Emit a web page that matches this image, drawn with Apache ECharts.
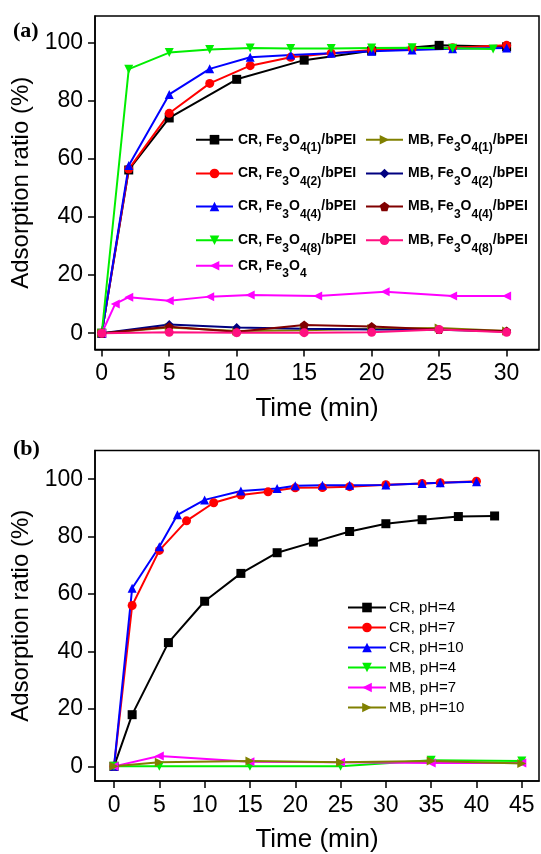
<!DOCTYPE html>
<html>
<head>
<meta charset="utf-8">
<script src="https://cdn.jsdelivr.net/npm/echarts@6/dist/echarts.min.js"></script>
<style>
html,body{margin:0;padding:0;background:#fff;}
#chart{width:541px;height:854px;}
</style>
</head>
<body>
<div id="chart"></div>
<script>
// ---------- Panel (a) data ----------
const xTicksA = [0, 5, 10, 15, 20, 25, 30];
const yTicksA = [0, 20, 40, 60, 80, 100];
const namesA = ['CR, Fe3O4(1)/bPEI','CR, Fe3O4(2)/bPEI','CR, Fe3O4(4)/bPEI','CR, Fe3O4(8)/bPEI','CR, Fe3O4',
                'MB, Fe3O4(1)/bPEI','MB, Fe3O4(2)/bPEI','MB, Fe3O4(4)/bPEI','MB, Fe3O4(8)/bPEI'];
const tA_CR1 = [0, 2, 5, 10, 15, 20, 25, 30];
const yA_CR1 = [0, 56.2, 74.1, 87.4, 94.0, 97.2, 99.1, 98.6];
const tA_CR2 = [0, 2, 5, 8, 11, 14, 17, 20, 23, 26, 30];
const yA_CR2 = [0, 56.5, 75.7, 86.0, 92.1, 95.0, 96.4, 97.5, 98.0, 98.3, 99.1];
const tA_CR4 = [0, 2, 5, 8, 11, 14, 17, 20, 23, 26, 30];
const yA_CR4 = [0, 57.7, 82.2, 91.0, 95.0, 95.8, 96.4, 97.1, 97.5, 97.9, 98.2];
const tA_CR8 = [0, 2, 5, 8, 11, 14, 17, 20, 23, 26, 29];
const yA_CR8 = [0, 90.9, 96.6, 97.7, 98.2, 98.0, 98.0, 98.2, 98.3, 98.1, 97.8];
const tA_CRFe = [0, 1, 2, 5, 8, 11, 16, 21, 26, 30];
const yA_CRFe = [0, 10.1, 12.4, 11.2, 12.6, 13.2, 12.8, 14.3, 12.8, 12.8];
const tA_MB = [0, 5, 10, 15, 20, 25, 30];
const yA_MB1 = [0, 2.0, 0.8, 1.0, 1.5, 1.8, 0.8];
const yA_MB2 = [0, 3.0, 2.0, 1.5, 1.3, 1.2, 0.6];
const yA_MB4 = [0, 2.2, 0.5, 2.8, 2.3, 1.3, 0.8];
const yA_MB8 = [0, 0.3, 0.2, 0.2, 0.3, 1.3, 0.3];

// ---------- Panel (b) data ----------
const xTicksB = [0, 5, 10, 15, 20, 25, 30, 35, 40, 45];
const yTicksB = [0, 20, 40, 60, 80, 100];
const namesB = ['CR, pH=4','CR, pH=7','CR, pH=10','MB, pH=4','MB, pH=7','MB, pH=10'];
const tB_CR4 = [0, 2, 6, 10, 14, 18, 22, 26, 30, 34, 38, 42];
const yB_CR4 = [0, 18.0, 43.1, 57.5, 67.2, 74.4, 78.1, 81.8, 84.5, 85.9, 87.0, 87.2];
const tB_CR7 = [0, 2, 5, 8, 11, 14, 17, 20, 23, 26, 30, 34, 36, 40];
const yB_CR7 = [0, 56.0, 75.2, 85.5, 91.8, 94.5, 95.6, 97.0, 97.1, 97.4, 98.1, 98.5, 98.8, 99.3];
const tB_CR10 = [0, 2, 5, 7, 10, 14, 18, 20, 23, 26, 30, 34, 36, 40];
const yB_CR10 = [0, 62.0, 76.5, 87.6, 92.8, 95.9, 96.8, 97.7, 97.9, 97.9, 98.0, 98.5, 98.8, 99.1];
const tB_MB = [0, 5, 15, 25, 35, 45];
const yB_MB4 = [0, 0, 0, 0, 2.1, 1.9];
const yB_MB7 = [0, 3.6, 1.6, 1.4, 1.2, 1.2];
const yB_MB10 = [0, 1.4, 1.9, 1.4, 1.9, 1.0];

function zip(t, y) { return t.map((v, i) => [v, y[i]]); }

const FONT = 'Liberation Sans, Arial, sans-serif';
const pentagon = 'path://M0,-10 L9.51,-3.09 L5.88,8.09 L-5.88,8.09 L-9.51,-3.09 Z';

function mkSeries(name, data, color, symbol, rot, gi) {
  return {
    name: name, type: 'line', data: data,
    xAxisIndex: gi, yAxisIndex: gi,
    symbol: symbol, symbolSize: 9, symbolRotate: rot || 0,
    showSymbol: true,
    lineStyle: { color: color, width: 2 },
    itemStyle: { color: color, borderWidth: 0 },
    emphasis: { disabled: true },
    z: 2
  };
}

const series = [
  mkSeries(namesA[0], zip(tA_CR1, yA_CR1), '#000000', 'rect', 0, 0),
  mkSeries(namesA[1], zip(tA_CR2, yA_CR2), '#ff0000', 'circle', 0, 0),
  mkSeries(namesA[2], zip(tA_CR4, yA_CR4), '#0000ff', 'triangle', 0, 0),
  mkSeries(namesA[3], zip(tA_CR8, yA_CR8), '#00ee00', 'triangle', 180, 0),
  mkSeries(namesA[4], zip(tA_CRFe, yA_CRFe), '#ff00ff', 'triangle', 90, 0),
  mkSeries(namesA[5], zip(tA_MB, yA_MB1), '#808000', 'triangle', -90, 0),
  mkSeries(namesA[6], zip(tA_MB, yA_MB2), '#000080', 'diamond', 0, 0),
  mkSeries(namesA[7], zip(tA_MB, yA_MB4), '#800000', pentagon, 0, 0),
  mkSeries(namesA[8], zip(tA_MB, yA_MB8), '#ff1080', 'circle', 0, 0),
  mkSeries(namesB[0], zip(tB_CR4, yB_CR4), '#000000', 'rect', 0, 1),
  mkSeries(namesB[1], zip(tB_CR7, yB_CR7), '#ff0000', 'circle', 0, 1),
  mkSeries(namesB[2], zip(tB_CR10, yB_CR10), '#0000ff', 'triangle', 0, 1),
  mkSeries(namesB[3], zip(tB_MB, yB_MB4), '#00ee00', 'triangle', 180, 1),
  mkSeries(namesB[4], zip(tB_MB, yB_MB7), '#ff00ff', 'triangle', 90, 1),
  mkSeries(namesB[5], zip(tB_MB, yB_MB10), '#808000', 'triangle', -90, 1)
];

function subFmt(n) {
  const m = n.match(/^(.*Fe)3O4(\(\d\))?(.*)$/);
  if (!m) return '{n|' + n + '}';
  let s = '{n|' + m[1] + '}{s|3}{n|O}{s|4' + (m[2] || '') + '}';
  if (m[3]) s += '{n|' + m[3] + '}';
  return s;
}

// panel (a) legend: one legend per item for exact placement
const legA = [];
const colX = [195, 365];
const rowY = [146.7, 180.5, 213.5, 247.3, 272.7];
const legPos = [[0,0],[0,1],[0,2],[0,3],[0,4],[1,0],[1,1],[1,2],[1,3]];
namesA.forEach((nm, i) => {
  const p = legPos[i];
  legA.push({
    data: [nm], left: colX[p[0]], top: rowY[p[1]] - 14, padding: 0,
    itemWidth: 37, itemHeight: 12, itemGap: 3, selectedMode: false,
    formatter: subFmt,
    textStyle: {
      color: '#000', fontFamily: FONT,
      rich: {
        n: { fontSize: 14, fontWeight: 'bold', fontFamily: FONT, lineHeight: 28, verticalAlign: 'middle', color: '#000' },
        s: { fontSize: 12, fontWeight: 'bold', fontFamily: FONT, lineHeight: 12, verticalAlign: 'bottom', color: '#000' }
      }
    }
  });
});
const legB = {
  data: namesB, orient: 'vertical', left: 347, top: 597.5, padding: 0,
  itemWidth: 38, itemHeight: 12, itemGap: 0, selectedMode: false,
  textStyle: { fontFamily: FONT, fontSize: 15, color: '#000', lineHeight: 20, padding: [0,0,0,-2] }
};

function xAxisCfg(gi, min, max, ticks, gap) {
  return {
    type: 'value', gridIndex: gi, min: min, max: max,
    name: 'Time (min)', nameLocation: 'middle', nameGap: gap,
    nameTextStyle: { fontFamily: FONT, fontSize: 26, color: '#000' },
    axisLine: { show: true, onZero: false, lineStyle: { color: '#000', width: 1.5 } },
    axisTick: { show: true, inside: false, length: 7, customValues: ticks, lineStyle: { color: '#000', width: 1.5 } },
    axisLabel: { customValues: ticks, fontFamily: FONT, fontSize: 23, color: '#000', margin: 13 },
    splitLine: { show: false }
  };
}
function yAxisCfg(gi, min, max, ticks) {
  return {
    type: 'value', gridIndex: gi, min: min, max: max,
    name: 'Adsorption ratio (%)', nameLocation: 'middle', nameGap: 62,
    nameTextStyle: { fontFamily: FONT, fontSize: 24, color: '#000' },
    axisLine: { show: true, onZero: false, lineStyle: { color: '#000', width: 1.5 } },
    axisTick: { show: true, inside: false, length: 7, customValues: ticks, lineStyle: { color: '#000', width: 1.5 } },
    axisLabel: { customValues: ticks, fontFamily: FONT, fontSize: 23, color: '#000', margin: 12 },
    splitLine: { show: false }
  };
}

const chart = echarts.init(document.getElementById('chart'), null, { renderer: 'canvas' });
chart.setOption({
  animation: false,
  backgroundColor: '#fff',
  grid: [
    { left: 95, top: 16, width: 444, height: 333.5, show: true, borderColor: '#000', borderWidth: 1.5, backgroundColor: 'transparent' },
    { left: 95, top: 450.5, width: 444, height: 331.5, show: true, borderColor: '#000', borderWidth: 1.5, backgroundColor: 'transparent' }
  ],
  xAxis: [
    xAxisCfg(0, -0.5, 32.4, xTicksA, 46),
    xAxisCfg(1, -2.1, 46.9, xTicksB, 46)
  ],
  yAxis: [
    yAxisCfg(0, -5.6, 109.2, yTicksA),
    yAxisCfg(1, -5.1, 110.0, yTicksB)
  ],
  legend: legA.concat([legB]),
  graphic: [
    { type: 'text', left: 13, top: 20, style: { text: '(a)', font: 'bold 22px "Liberation Serif", "Times New Roman", serif', fill: '#000' } },
    { type: 'text', left: 13, top: 438, style: { text: '(b)', font: 'bold 22px "Liberation Serif", "Times New Roman", serif', fill: '#000' } }
  ],
  series: series
});
</script>
</body>
</html>
